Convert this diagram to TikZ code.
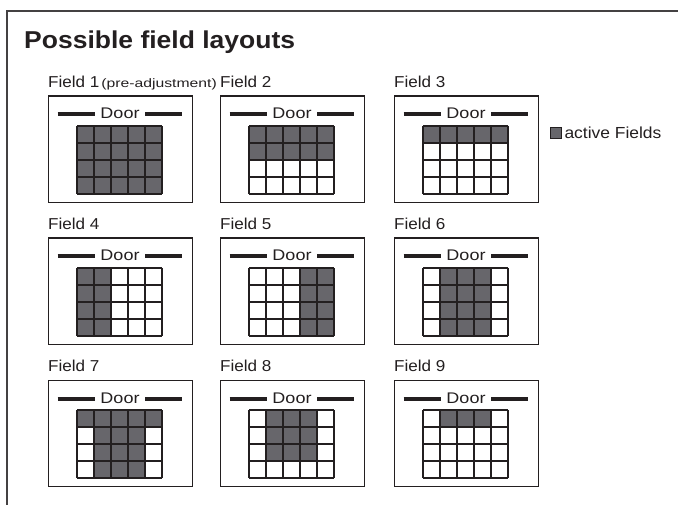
\documentclass[tikz,border=0pt]{standalone}
\usepackage{fontspec}
\setmainfont{Liberation Sans}
\usepackage{graphicx}
\definecolor{ink}{RGB}{35,31,32}
\definecolor{activegray}{RGB}{103,102,107}
\tikzset{
  fieldbox/.style={draw=ink,line width=1.3pt,minimum width=144pt,minimum height=106.5pt,inner sep=0pt,anchor=north west},
  fieldlbl/.style={anchor=base west,inner sep=0pt,text=ink,font=\fontsize{15.8}{18}\selectfont},
  doorlbl/.style={anchor=base,inner sep=0pt,text=ink,font=\fontsize{15.4}{18}\selectfont},
  doorbar/.style={line width=4pt,ink},
  cellgrid/.style={line width=1.5pt,ink},
}
\newcommand{\wide}[2]{\scalebox{#1}[1]{#2}}

\begin{document}
\begin{tikzpicture}[x=1pt,y=-1pt]
  \useasboundingbox (0,0) rectangle (678,505);
  % frame, open at right and bottom
  \coordinate (frameS) at (7,505);
  \coordinate (frameE) at (678,11);
  \draw[line width=1.2pt,ink!85] (frameS) |- (frameE);
  \node[anchor=base west,inner sep=0pt,text=ink,font=\fontsize{24.4}{28}\selectfont\bfseries] (title) at (24,49) {\wide{1.086}{Possible field layouts}};

  \foreach \n/\bx/\by/\act in {1/48/95.5/{(0,0) rectangle (5,4)},
                              2/220/95.5/{(0,0) rectangle (5,2)},
                              3/394/95.5/{(0,0) rectangle (5,1)},
                              4/48/237.5/{(0,0) rectangle (2,4)},
                              5/220/237.5/{(3,0) rectangle (5,4)},
                              6/394/237.5/{(1,0) rectangle (4,4)},
                              7/48/379.5/{(0,0) rectangle (5,1) (1,1) rectangle (4,4)},
                              8/220/379.5/{(1,0) rectangle (4,3)},
                              9/394/379.5/{(1,0) rectangle (4,1)}}{
    \node[fieldbox] (box\n) at (\bx,\by) {};
    \node[fieldlbl] (lbl\n) at ([yshift=8.3pt]box\n.north west) {\wide{1.08}{Field \n}};
    \begin{scope}[shift={(\bx,\by)}]
      \node[doorlbl] (door\n) at (72,23.5) {\wide{1.17}{Door}};
      \draw[doorbar] (9.5,19) -- (46.5,19);
      \draw[doorbar] (97,19) -- (134,19);
      \begin{scope}[shift={(29,30.5)},x=17pt,y=-17pt]
        \fill[activegray] \act;
        \foreach \i in {0,...,5} \draw[cellgrid] (\i,0) -- (\i,4);
        \foreach \j in {0,...,4} \draw[cellgrid] (0,\j) -- (5,\j);
      \end{scope}
    \end{scope}
  }
  \node[anchor=base west,inner sep=0pt,text=ink,font=\fontsize{12.2}{14}\selectfont] (preadj) at ([xshift=1.5pt]lbl1.base east) {\wide{1.29}{(pre-adjustment)}};

  % legend
  \node[draw=ink,fill=activegray,line width=0.8pt,minimum size=11pt,inner sep=0pt] (legendsq) at (556.2,132.8) {};
  \node[anchor=base west,inner sep=0pt,text=ink,font=\fontsize{16}{18}\selectfont] (legendtxt) at (564.3,138.3) {\wide{1.09}{active Fields}};
\end{tikzpicture}
\end{document}
